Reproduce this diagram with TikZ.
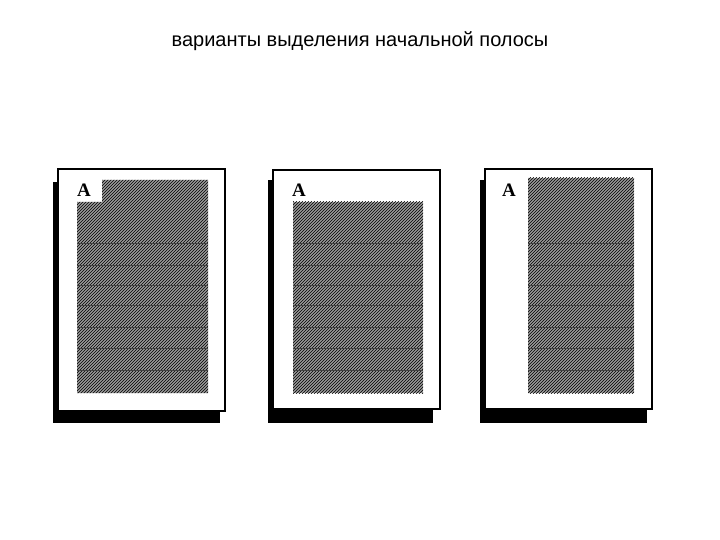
\documentclass[tikz,border=0pt]{standalone}
\usepackage{fontspec}
\setmainfont{Liberation Sans}
\newfontfamily\letterfont{Liberation Serif}
\usetikzlibrary{patterns}
\tikzset{
  frame/.style={draw=black, line width=1.6pt, fill=white},
  shadowbar/.style={fill=black, draw=none},
  textblock/.style={fill=black!40, draw=none},
  hatch/.style={pattern=north east lines, pattern color=black},
  initial/.style={font=\letterfont\bfseries\fontsize{19}{19}\selectfont, inner sep=0pt},
  band/.style={draw=black!75, line width=0.9pt}
}
\newcommand{\bands}[2]{%
  \foreach \yy in {243,265,285,305,327,348,370} {\draw[band] (#1,\yy) -- (#2,\yy);}
}
\begin{document}
\begin{tikzpicture}[x=1pt,y=-1pt]
\useasboundingbox (0,0) rectangle (720,540);
\fill[white] (0,0) rectangle (720,540);
\node[font=\fontsize{20}{20}\selectfont] (title) at (360,41) {варианты выделения начальной полосы};

% page 1
\fill[shadowbar] (53,182) rectangle (59,423);
\fill[shadowbar] (53,411) rectangle (220,423);
\draw[frame] (58,169) rectangle (225,411);
\fill[textblock] (102,180) -- (208,180) -- (208,393) -- (77,393) -- (77,202) -- (102,202) -- cycle;
\fill[hatch] (102,180) -- (208,180) -- (208,393) -- (77,393) -- (77,202) -- (102,202) -- cycle;
\bands{77}{208}
\node[initial] (a1) at (84,190) {A};

% page 2
\fill[shadowbar] (268,180) rectangle (274,423);
\fill[shadowbar] (268,409) rectangle (433,423);
\draw[frame] (273,170) rectangle (440,409);
\fill[textblock] (293,202) rectangle (423,393);
\fill[hatch] (293,202) rectangle (423,393);
\bands{293}{423}
\node[initial] (a2) at (299,190) {A};

% page 3
\fill[shadowbar] (480,180) rectangle (486,423);
\fill[shadowbar] (480,409) rectangle (647,423);
\draw[frame] (485,169) rectangle (652,409);
\fill[textblock] (528,178) rectangle (634,393);
\fill[hatch] (528,178) rectangle (634,393);
\bands{528}{634}
\node[initial] (a3) at (509,190) {A};
\end{tikzpicture}
\end{document}
